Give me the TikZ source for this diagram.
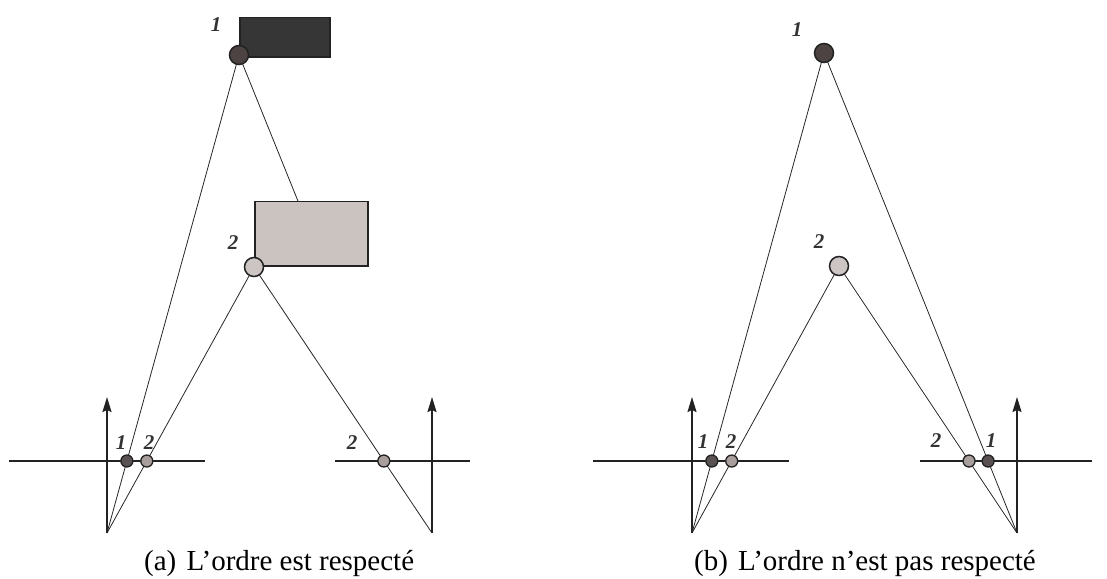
\documentclass[tikz,border=0pt]{standalone}
\usepackage{fontspec}
\setmainfont{Liberation Serif}
\usetikzlibrary{arrows.meta}
\definecolor{ptdark}{HTML}{4D4343}
\definecolor{projdark}{HTML}{5A5252}
\definecolor{ptlight}{HTML}{CDC5C3}
\definecolor{projlight}{HTML}{A89E9C}
\definecolor{rectdark}{HTML}{363636}
\definecolor{rectlight}{HTML}{CBC3C0}
\definecolor{outl}{HTML}{222222}
\tikzset{
  ray/.style={line width=0.8pt, draw=black!85},
  axis/.style={line width=1.6pt, draw=outl},
  axisarrow/.style={axis, -{Stealth[length=15pt,width=9pt,inset=2pt]}},
  bigdot/.style={circle, draw=outl, line width=1.5pt, minimum size=19pt, inner sep=0pt},
  smalldot/.style={circle, draw=outl, line width=1.3pt, minimum size=12pt, inner sep=0pt},
  screen/.style={draw=outl, line width=1.5pt},
  lbl/.style={font=\fontsize{21}{24}\selectfont\bfseries\itshape, text=black!80, inner sep=0pt},
  captext/.style={font=\fontsize{29}{33}\selectfont, inner sep=0pt, anchor=base west}
}
\begin{document}
\begin{tikzpicture}[x=1pt,y=-1pt]
\path[use as bounding box] (0,0) rectangle (1107,578);
% ---------------- panel (a) ----------------
\coordinate (a1) at (239,55);
\coordinate (a2) at (254,267);
\coordinate (aCL) at (107,533);
\coordinate (aCR) at (432,533);
\coordinate (aLh1) at (9,461);
\coordinate (aLh2) at (205,461);
\coordinate (aRh1) at (335,461);
\coordinate (aRh2) at (470,461);
\coordinate (aLtip) at (107,397);
\coordinate (aRtip) at (432,397);
\coordinate (r2a) at (255,201.5);
\coordinate (r2b) at (368,201.5);
% axes
\draw[axis] (aLh1) -- (aLh2);
\draw[axis] (aRh1) -- (aRh2);
\draw[axisarrow] (aCL) -- (aLtip);
\draw[axisarrow] (aCR) -- (aRtip);
% rays
\coordinate (aq1) at (intersection of a1--aCL and aLh1--aLh2);
\coordinate (aq2) at (intersection of a2--aCL and aLh1--aLh2);
\coordinate (aq2r) at (intersection of a2--aCR and aRh1--aRh2);
\coordinate (acut) at (intersection of a1--aCR and r2a--r2b);
\draw[ray] (a1) -- (aCL);
\draw[ray] (a2) -- (aCL);
\draw[ray] (a2) -- (aCR);
\draw[ray] (a1) -- (acut);
% screens
\draw[screen, fill=rectdark] (240,17.5) rectangle (330,57);
\draw[screen, fill=rectlight] (255,201.5) rectangle (368,266);
% points
\node[bigdot, fill=ptdark] (A1) at (a1) {};
\node[bigdot, fill=ptlight] (A2) at (a2) {};
\node[smalldot, fill=projdark] (AQ1) at (aq1) {};
\node[smalldot, fill=projlight] (AQ2) at (aq2) {};
\node[smalldot, fill=projlight] (AQ2R) at (aq2r) {};
% labels
\node[lbl] (LA1) at (216,25) {1};
\node[lbl] (LA2) at (233,243) {2};
\node[lbl] (LAq1) at (121,443) {1};
\node[lbl] (LAq2) at (149,443) {2};
\node[lbl] (LAq2r) at (352,443) {2};
\node[captext] (capa) at (144,570) {(a)\hspace{0.35em}L’ordre est respecté};
% ---------------- panel (b) ----------------
\coordinate (b1) at (824,53);
\coordinate (b2) at (839,266);
\coordinate (bCL) at (692,533);
\coordinate (bCR) at (1017,533);
\coordinate (bLh1) at (593,461);
\coordinate (bLh2) at (789,461);
\coordinate (bRh1) at (920,461);
\coordinate (bRh2) at (1092,461);
\coordinate (bLtip) at (692,397);
\coordinate (bRtip) at (1017,397);
\draw[axis] (bLh1) -- (bLh2);
\draw[axis] (bRh1) -- (bRh2);
\draw[axisarrow] (bCL) -- (bLtip);
\draw[axisarrow] (bCR) -- (bRtip);
\coordinate (bq1) at (intersection of b1--bCL and bLh1--bLh2);
\coordinate (bq2) at (intersection of b2--bCL and bLh1--bLh2);
\coordinate (bq1r) at (intersection of b1--bCR and bRh1--bRh2);
\coordinate (bq2r) at (intersection of b2--bCR and bRh1--bRh2);
\draw[ray] (b1) -- (bCL);
\draw[ray] (b2) -- (bCL);
\draw[ray] (b1) -- (bCR);
\draw[ray] (b2) -- (bCR);
\node[bigdot, fill=ptdark] (B1) at (b1) {};
\node[bigdot, fill=ptlight] (B2) at (b2) {};
\node[smalldot, fill=projdark] (BQ1) at (bq1) {};
\node[smalldot, fill=projlight] (BQ2) at (bq2) {};
\node[smalldot, fill=projdark] (BQ1R) at (bq1r) {};
\node[smalldot, fill=projlight] (BQ2R) at (bq2r) {};
\node[lbl] (LB1) at (797,30) {1};
\node[lbl] (LB2) at (819,242) {2};
\node[lbl] (LBq1) at (703,442) {1};
\node[lbl] (LBq2) at (731,442) {2};
\node[lbl] (LBq2r) at (936,441) {2};
\node[lbl] (LBq1r) at (991,441) {1};
\node[captext] (capb) at (694,570) {(b)\hspace{0.35em}L’ordre n’est pas respecté};
\end{tikzpicture}
\end{document}
